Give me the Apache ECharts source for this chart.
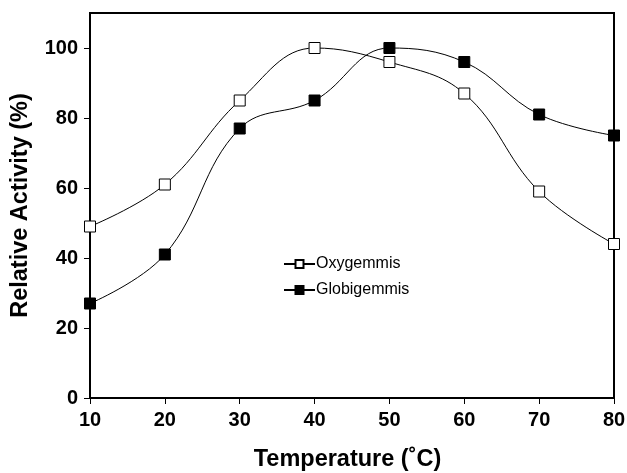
<!DOCTYPE html>
<html><head><meta charset="utf-8">
<script src="https://cdn.jsdelivr.net/npm/echarts@6/dist/echarts.min.js"></script>
<style>html,body{margin:0;padding:0;background:#fff}#c{width:627px;height:473px}</style>
</head><body><div id="c"></div>
<script>
const temperatures = [10, 20, 30, 40, 50, 60, 70, 80];
const oxygemmis = [49, 61, 85, 100, 96, 87, 59, 44];
const globigemmis = [27, 41, 77, 85, 100, 96, 81, 75];
const yTicks = [0, 20, 40, 60, 80, 100];
const xTicks = [10, 20, 30, 40, 50, 60, 70, 80];

const font = 'Liberation Sans, Arial, Helvetica, sans-serif';
const chart = echarts.init(document.getElementById('c'));
chart.setOption({
  animation: false,
  backgroundColor: '#fff',
  grid: { left: 90, right: 13, top: 13, bottom: 75, outerBoundsMode: 'none', containLabel: false, show: true, borderColor: '#000', borderWidth: 2, backgroundColor: 'transparent' },
  legend: {
    orient: 'vertical', left: 283, top: 256, padding: 0, itemWidth: 31, itemHeight: 10, itemGap: 10,
    textStyle: { fontFamily: font, fontSize: 16, color: '#000', padding: [0, 0, 0, -4] },
    data: ['Oxygemmis', 'Globigemmis']
  },
  xAxis: {
    type: 'value', min: 10, max: 80, interval: 10,
    name: 'Temperature (˚C)', nameLocation: 'middle', nameGap: 50,
    nameTextStyle: { fontFamily: font, fontSize: 23.5, fontWeight: 'bold', color: '#000', padding: [0, 9, 0, 0] },
    axisLine: { lineStyle: { color: '#000', width: 2 } },
    axisTick: { show: true, length: 6, lineStyle: { color: '#000', width: 1 }, customValues: xTicks },
    axisLabel: { fontFamily: font, fontSize: 20, fontWeight: 'bold', color: '#000', margin: 12, customValues: xTicks },
    splitLine: { show: false }
  },
  yAxis: {
    type: 'value', min: 0, max: 110,
    name: 'Relative Activity (%)', nameLocation: 'middle', nameGap: 57, nameRotate: 90,
    nameTextStyle: { fontFamily: font, fontSize: 23.5, fontWeight: 'bold', color: '#000' },
    axisLine: { show: true, lineStyle: { color: '#000', width: 2 } },
    axisTick: { show: true, length: 6, lineStyle: { color: '#000', width: 1 }, customValues: yTicks },
    axisLabel: { fontFamily: font, fontSize: 20, fontWeight: 'bold', color: '#000', margin: 12, customValues: yTicks },
    splitLine: { show: false }
  },
  series: [
    {
      name: 'Oxygemmis', type: 'line', smooth: 0.4,
      data: temperatures.map((t, i) => [t, oxygemmis[i]]),
      symbol: 'rect', symbolSize: 11,
      lineStyle: { color: '#000', width: 1 },
      itemStyle: { color: '#fff', borderColor: '#000', borderWidth: 1 },
      z: 3
    },
    {
      name: 'Globigemmis', type: 'line', smooth: 0.4,
      data: temperatures.map((t, i) => [t, globigemmis[i]]),
      symbol: 'rect', symbolSize: 11,
      lineStyle: { color: '#000', width: 1 },
      itemStyle: { color: '#000', borderColor: '#000', borderWidth: 1 },
      z: 3
    }
  ]
});
</script></body></html>
